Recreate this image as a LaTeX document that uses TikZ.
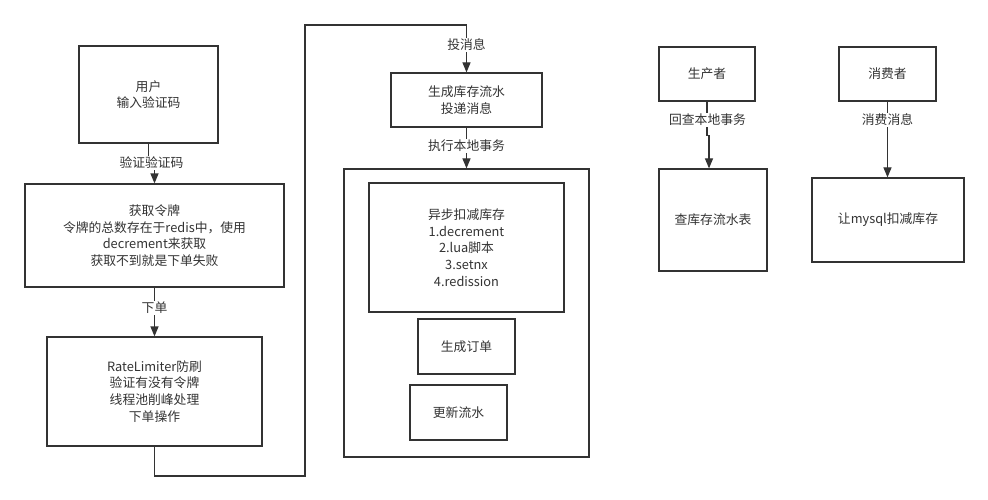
\documentclass[tikz,border=0pt]{standalone}
\usepackage{fontspec}
\setmainfont{Noto Sans CJK SC}
\usetikzlibrary{arrows.meta}
\definecolor{linec}{HTML}{333333}
\definecolor{textc}{HTML}{333333}
\begin{document}
\begin{tikzpicture}[x=1pt,y=-1pt,
  box/.style={draw=linec, line width=1.2pt, align=center, inner sep=0pt,
    font=\fontsize{12.8}{16.7}\selectfont, text=textc},
  conn/.style={draw=linec, line width=1.2pt, -{Triangle[length=10pt,width=8pt]}},
  lbl/.style={fill=white, inner sep=1pt, font=\fontsize{12.8}{16}\selectfont, text=textc}]
\useasboundingbox[fill=white] (0,0) rectangle (988,500);
% left column
\node[box, minimum width=139pt, minimum height=97pt] (b1) at (148.5,94.5) {用户\\输入验证码};
\node[box, minimum width=259pt, minimum height=103pt] (b2) at (154.5,235.5) {获取令牌\\令牌的总数存在于redis中，使用\\decrement来获取\\获取不到就是下单失败};
\node[box, minimum width=215pt, minimum height=109pt] (b3) at (154.5,391.5) {RateLimiter防刷\\验证有没有令牌\\线程池削峰处理\\下单操作};
% middle column
\node[box, minimum width=151pt, minimum height=54pt] (b4) at (466.5,100) {生成库存流水\\投递消息};
\node[box, minimum width=245pt, minimum height=288pt] (outer) at (466.5,313) {};
\node[box, minimum width=195pt, minimum height=129pt] (inner) at (466.5,247.5) {异步扣减库存\\1.decrement\\2.lua脚本\\3.setnx\\4.redission};
\node[box, minimum width=97pt, minimum height=55pt] (order) at (466.5,346.5) {生成订单};
\node[box, minimum width=97pt, minimum height=55pt] (flow) at (458.5,412.5) {更新流水};
% right
\node[box, minimum width=96pt, minimum height=54pt] (prod) at (707,74) {生产者};
\node[box, minimum width=108pt, minimum height=102pt] (chk) at (713,220) {查库存流水表};
\node[box, minimum width=97pt, minimum height=54pt] (cons) at (887.5,74) {消费者};
\node[box, minimum width=152pt, minimum height=84pt] (sql) at (888,220) {让mysql扣减库存};
% connectors
\draw[conn] (b1.south) -- ++(0,20) -| (b2.north);
\node[lbl] (l1) at (151.5,163) {验证验证码};
\draw[conn] (b2.south) -- (b3.north);
\node[lbl] (l2) at (154.5,308) {下单};
\coordinate (c1) at (154.5,476);
\coordinate (c2) at (305,476);
\coordinate (c3) at (305,25);
\coordinate (c4) at (466.5,25);
\draw[conn] (b3.south) -- (c1) -- (c2) -- (c3) -- (c4) -- (b4.north);
\node[lbl] (l3) at (466.5,45) {投消息};
\draw[conn] (b4.south) -- (outer.north);
\node[lbl] (l4) at (466.5,146) {执行本地事务};
\draw[conn] (prod.south) -- ++(0,34) -| ([xshift=-4pt]chk.north);
\node[lbl] (l5) at (707.5,120) {回查本地事务};
\draw[conn] (cons.south) -- (cons.south |- sql.north);
\node[lbl] (l6) at (887.5,120) {消费消息};
\end{tikzpicture}
\end{document}
